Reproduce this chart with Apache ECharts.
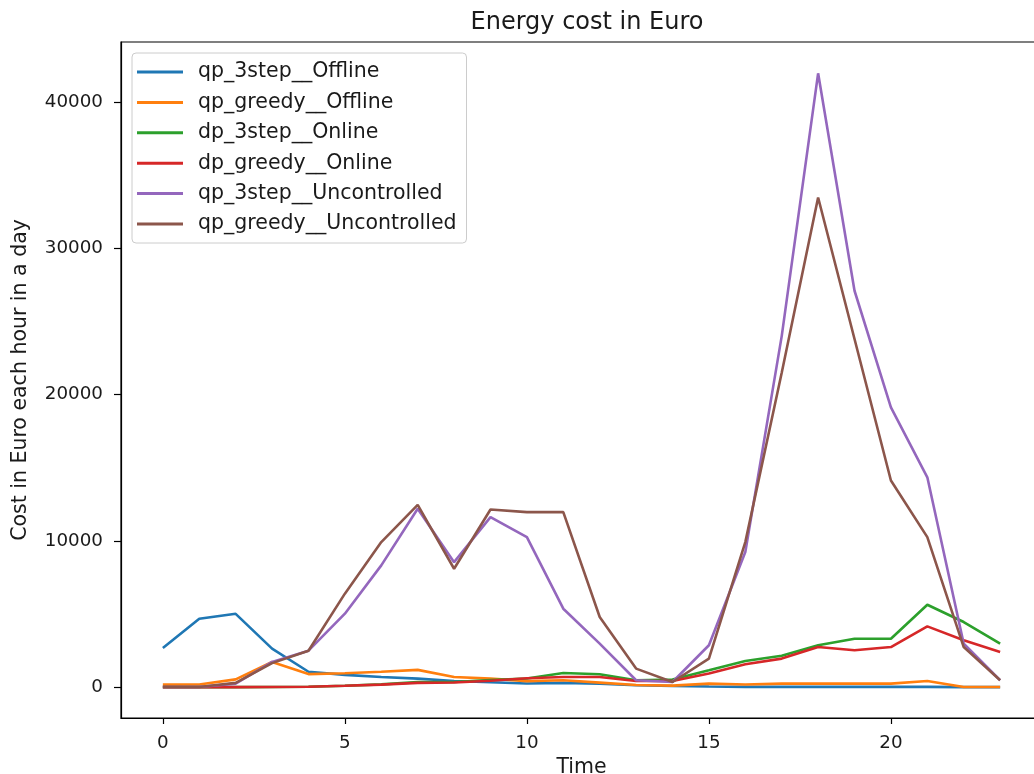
<!DOCTYPE html>
<html>
<head>
<meta charset="utf-8">
<title>Energy cost in Euro</title>
<script src="https://cdn.jsdelivr.net/npm/echarts@6/dist/echarts.min.js"></script>
<style>
  html, body { margin: 0; padding: 0; background: #fff; }
  #chart { width: 1034px; height: 774px; }
</style>
</head>
<body>
<div id="chart"></div>
<script>
// Hours of the day
const hours = [0,1,2,3,4,5,6,7,8,9,10,11,12,13,14,15,16,17,18,19,20,21,22,23];

// Hourly cost per strategy (Euro)
const qp3stepOffline = [2680, 4680, 5020, 2640, 1060, 850, 700, 590, 430, 340, 260, 300, 240, 140, 90, 50, 30, 30, 30, 30, 30, 30, 10, 10];
const qpGreedyOffline = [180, 190, 540, 1730, 900, 960, 1060, 1190, 700, 590, 420, 480, 320, 160, 110, 250, 190, 250, 250, 250, 250, 430, 20, 20];
const dp3stepOnline = [10, 10, 10, 20, 40, 100, 200, 350, 360, 500, 600, 980, 890, 480, 530, 1160, 1800, 2160, 2870, 3320, 3320, 5640, 4460, 2980];
const dpGreedyOnline = [10, 10, 10, 20, 40, 100, 180, 300, 330, 450, 620, 700, 700, 430, 430, 935, 1570, 1960, 2750, 2525, 2750, 4160, 3210, 2410];
const qp3stepUncontrolled = [20, 20, 250, 1730, 2500, 5030, 8330, 12200, 8550, 11630, 10260, 5370, 2980, 480, 360, 2870, 9240, 24000, 41960, 27100, 19130, 14350, 2980, 480];
const qpGreedyUncontrolled = [20, 20, 300, 1650, 2500, 6400, 9920, 12470, 8100, 12150, 11970, 11970, 4800, 1275, 360, 1960, 9920, 21500, 33470, 23800, 14130, 10260, 2750, 480];

// Tick labels
const xTicks = [0, 5, 10, 15, 20];
const yTicks = [0, 10000, 20000, 30000, 40000];

const seriesDefs = [
  { name: 'qp_3step__Offline', values: qp3stepOffline, color: '#1f77b4' },
  { name: 'qp_greedy__Offline', values: qpGreedyOffline, color: '#ff7f0e' },
  { name: 'dp_3step__Online', values: dp3stepOnline, color: '#2ca02c' },
  { name: 'dp_greedy__Online', values: dpGreedyOnline, color: '#d62728' },
  { name: 'qp_3step__Uncontrolled', values: qp3stepUncontrolled, color: '#9467bd' },
  { name: 'qp_greedy__Uncontrolled', values: qpGreedyUncontrolled, color: '#8c564b' }
];

const FONT = 'DejaVu Sans';
const INK = '#1a1a1a';
const chart = echarts.init(document.getElementById('chart'), null, { renderer: 'canvas' });

chart.setOption({
  animation: false,
  backgroundColor: '#fff',
  textStyle: { fontFamily: FONT },
  title: {
    text: 'Energy cost in Euro',
    left: 582,
    textAlign: 'center',
    top: 6,
    textStyle: { fontFamily: FONT, fontSize: 24, fontWeight: 'normal', color: INK }
  },
  legend: {
    orient: 'vertical',
    left: 132,
    top: 53,
    padding: [7, 10, 7, 5],
    itemGap: 6.4,
    itemWidth: 46,
    itemHeight: 3,
    icon: 'rect',
    backgroundColor: 'rgba(255,255,255,0.8)',
    borderColor: '#cccccc',
    borderWidth: 1,
    borderRadius: 4,
    textStyle: { fontFamily: FONT, fontSize: 20.5, color: INK, lineHeight: 24, padding: [0, 0, 0, 10] },
    data: seriesDefs.map(s => s.name)
  },
  grid: {
    left: 121,
    top: 42,
    width: 921,
    height: 676,
    show: true,
    borderColor: '#000',
    borderWidth: 1.2,
    containLabel: false,
    outerBoundsMode: 'none'
  },
  xAxis: {
    type: 'value',
    min: -1.15,
    max: 24.15,
    name: 'Time',
    nameLocation: 'middle',
    nameGap: 38,
    nameTextStyle: { fontFamily: FONT, fontSize: 20.5, color: INK },
    axisLine: { show: true, onZero: false, lineStyle: { color: '#000', width: 1.2 } },
    axisTick: { show: true, length: 6, inside: false, customValues: xTicks, lineStyle: { color: '#000', width: 1.2 } },
    axisLabel: { customValues: xTicks, margin: 16, fontFamily: FONT, fontSize: 18.3, color: INK },
    splitLine: { show: false }
  },
  yAxis: {
    type: 'value',
    min: -2100,
    max: 44100,
    name: 'Cost in Euro each hour in a day',
    nameLocation: 'middle',
    nameGap: 90,
    nameRotate: 90,
    nameTextStyle: { fontFamily: FONT, fontSize: 20.5, color: INK },
    axisLine: { show: true, onZero: false, lineStyle: { color: '#000', width: 1.2 } },
    axisTick: { show: true, length: 7, inside: false, customValues: yTicks, lineStyle: { color: '#000', width: 1.2 } },
    axisLabel: {
      customValues: yTicks,
      margin: 18,
      fontFamily: FONT,
      fontSize: 18.3,
      color: INK,
      formatter: v => String(v)
    },
    splitLine: { show: false }
  },
  series: seriesDefs.map(s => ({
    name: s.name,
    type: 'line',
    data: hours.map((h, i) => [h, s.values[i]]),
    showSymbol: false,
    symbol: 'none',
    color: s.color,
    lineStyle: { color: s.color, width: 2.6 },
    itemStyle: { color: s.color },
    emphasis: { disabled: true }
  }))
});
</script>
</body>
</html>
